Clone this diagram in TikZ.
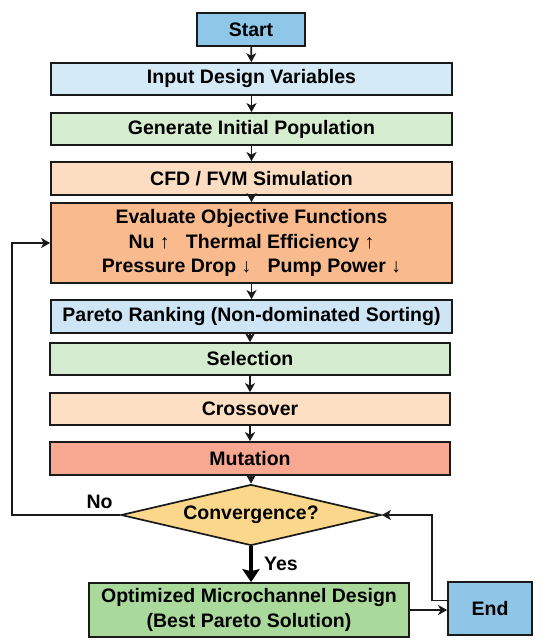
\documentclass[tikz,border=0pt]{standalone}
\usepackage{fontspec}
\setmainfont{Liberation Sans}
\usetikzlibrary{arrows.meta,shapes.geometric}
\definecolor{cStart}{HTML}{8FC7E9}
\definecolor{cInput}{HTML}{D5EAF7}
\definecolor{cGen}{HTML}{D7EDD0}
\definecolor{cCfd}{HTML}{FCDDC2}
\definecolor{cEval}{HTML}{F9BB8D}
\definecolor{cPar}{HTML}{CDE5F4}
\definecolor{cSel}{HTML}{D6ECD1}
\definecolor{cCross}{HTML}{FDE0C3}
\definecolor{cMut}{HTML}{F8A791}
\definecolor{cDia}{HTML}{FAD78A}
\definecolor{cOpt}{HTML}{AAD99C}
\definecolor{cEnd}{HTML}{8FC6E7}
\definecolor{cLine}{HTML}{1A1A1A}
\tikzset{
  boxnode/.style={draw=cLine, line width=1.7pt, rectangle, inner sep=0pt, align=center,
    font=\fontsize{19.5}{24.5}\selectfont\bfseries, text=black},
  arr/.style={draw=cLine, line width=1.7pt, -{Stealth[length=9pt,width=10pt,inset=2.5pt]}},
  thickarr/.style={draw=black, line width=4.5pt, -{Stealth[length=13pt,width=17pt,inset=2pt]}},
  lbl/.style={font=\fontsize{19.5}{24.5}\selectfont\bfseries, text=black, inner sep=0pt}
}
\begin{document}
\begin{tikzpicture}[x=1pt,y=-1pt]
\useasboundingbox (0,0) rectangle (550,644);
\node[boxnode, fill=cStart, minimum width=108pt, minimum height=33pt] (start) at (251,29.5) {Start};
\node[boxnode, fill=cInput, minimum width=401pt, minimum height=32pt] (input) at (251.5,79) {Input Design Variables};
\node[boxnode, fill=cGen, minimum width=401pt, minimum height=32pt] (gen) at (251.5,129) {Generate Initial Population};
\node[boxnode, fill=cCfd, minimum width=401pt, minimum height=33pt] (cfd) at (251.5,178.5) {CFD / FVM Simulation};
\node[boxnode, fill=cEval, minimum width=401pt, minimum height=80pt] (eval) at (251.5,243) {Evaluate Objective Functions\\Nu \char"2191\;\; Thermal Efficiency \char"2191\\Pressure Drop \char"2193\;\; Pump Power \char"2193};
\node[boxnode, fill=cPar, minimum width=401pt, minimum height=33pt] (par) at (251.5,316.5) {Pareto Ranking (Non-dominated Sorting)};
\node[boxnode, fill=cSel, minimum width=400pt, minimum height=32pt] (sel) at (250,359) {Selection};
\node[boxnode, fill=cCross, minimum width=400pt, minimum height=32pt] (cross) at (250,409) {Crossover};
\node[boxnode, fill=cMut, minimum width=400pt, minimum height=33pt] (mut) at (250,458.5) {Mutation};
\node[boxnode, shape=diamond, aspect=4.26, fill=cDia, minimum width=260pt, minimum height=61pt] (dia) at (251,515) {Convergence?};
\node[boxnode, fill=cOpt, minimum width=320pt, minimum height=54pt] (opt) at (249,610) {Optimized Microchannel Design\\(Best Pareto Solution)};
\node[boxnode, fill=cEnd, minimum width=84pt, minimum height=53pt] (end) at (490,608.5) {End};
\coordinate (lx) at (12,0);
\draw[arr] (start) -- (input);
\draw[arr] (input) -- (gen);
\draw[arr] (gen) -- (cfd);
\draw[arr] (cfd) -- (eval);
\draw[arr] (eval) -- (par);
\draw[arr] (par.south -| sel.north) -- (sel.north);
\draw[arr] (sel) -- (cross);
\draw[arr] (cross) -- (mut);
\draw[arr] (mut.south -| dia.north) -- (dia.north);
\draw[thickarr] (dia.south) -- (dia.south |- opt.north);
\draw[arr] (opt.east) -- (opt.east -| end.west);
\draw[arr] ([yshift=8pt]end.west) -- ++(-15,0) |- (dia.east);
\draw[arr] (dia.west) -- (dia.west -| lx) |- (eval.west);
\node[lbl] (no) at (99.5,502) {No};
\node[lbl] (yes) at (281,564) {Yes};
\end{tikzpicture}
\end{document}
